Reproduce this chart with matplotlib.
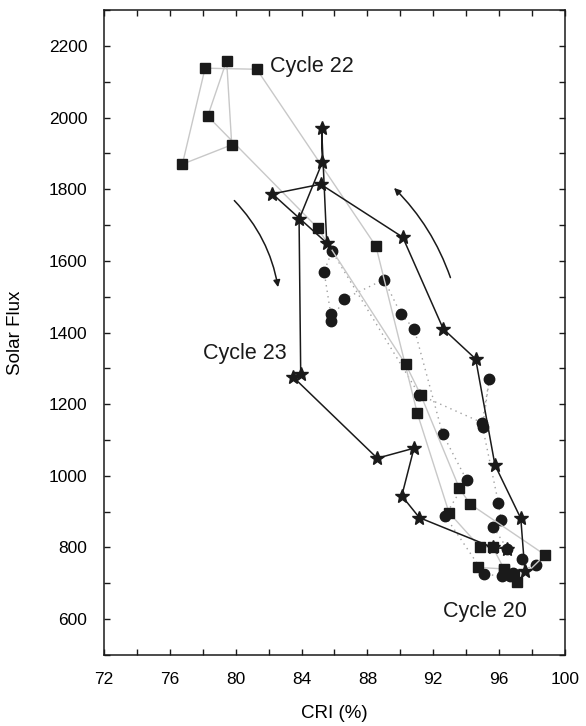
import matplotlib
matplotlib.use("Agg")
from matplotlib import pyplot as plt
from matplotlib.patches import FancyArrowPatch
from matplotlib.ticker import MultipleLocator

plt.rcParams["font.family"] = ["Liberation Sans", "DejaVu Sans"]

# Cycle 22 (squares, grey solid line)
cycle22Cri = [94.74, 96.3, 95.61, 94.84, 92.96, 91.03, 88.52, 81.28, 78.14, 76.76,
              79.76, 79.45, 78.3, 84.98, 90.33, 91.24, 93.59, 94.24, 98.8, 97.1,
              96.9, 96.3]
cycle22Flux = [744, 740, 801, 801, 897, 1175, 1641, 2135, 2138, 1870,
               1924, 2159, 2004, 1692, 1311, 1226, 965, 921, 779, 703,
               722, 738]

# Cycle 23 (stars, black solid line)
cycle23Cri = [97.57, 97.32, 95.75, 94.58, 92.61, 90.15, 85.16, 82.23, 85.53, 85.22,
              85.26, 83.85, 83.95, 83.46, 88.6, 90.83, 90.09, 91.16, 95.61, 96.5]
cycle23Flux = [733, 881, 1030, 1326, 1410, 1666, 1814, 1787, 1650, 1970,
               1875, 1716, 1283, 1277, 1049, 1077, 944, 883, 800, 796]

# Cycle 20 (circles, grey dotted line)
cycle20Cri = [97.38, 98.25, 96.87, 96.67, 96.16, 95.1, 92.72, 94.03, 92.57, 90.85,
              90.04, 89.01, 86.6, 85.79, 85.77, 85.37, 85.85, 91.16, 94.98, 95.41,
              95.0, 95.96, 96.12, 95.65, 96.5]
cycle20Flux = [767, 751, 728, 719, 719, 726, 888, 988, 1117, 1410,
               1451, 1548, 1494, 1433, 1453, 1570, 1627, 1226, 1148, 1270,
               1136, 924, 877, 857, 796]

# labels and arrows
cycleLabels = ["Cycle 22", "Cycle 23", "Cycle 20"]
labelPos = [(82.1, 2143), (78.0, 1340), (92.6, 620)]
arrowDown = [(79.8, 1774), (82.6, 1519)]
arrowUp = [(93.1, 1546), (89.5, 1809)]

fig = plt.figure(figsize=(5.86, 7.26), dpi=100)
ax = fig.add_axes([0.1775, 0.098, 0.7865, 0.888])

ax.plot(cycle20Cri, cycle20Flux, color="#a0a0a0", lw=1.0, ls=(0, (1, 3)),
        marker="o", ms=7.5, mfc="#1a1a1a", mec="#1a1a1a", zorder=2)
ax.plot(cycle22Cri, cycle22Flux, color="#c8c8c8", lw=1.0, ls="-",
        marker="s", ms=7, mfc="#1a1a1a", mec="#1a1a1a", zorder=3)
ax.plot(cycle23Cri, cycle23Flux, color="#1a1a1a", lw=1.1, ls="-",
        marker="*", ms=10, mfc="#1a1a1a", mec="#1a1a1a", zorder=4)

for text, pos in zip(cycleLabels, labelPos):
    ax.text(pos[0], pos[1], text, fontsize=15.5, color="#1a1a1a", va="center", ha="left")

ax.add_patch(FancyArrowPatch(arrowDown[0], arrowDown[1], arrowstyle="-|>",
                             connectionstyle="arc3,rad=-0.16", mutation_scale=10,
                             lw=1.1, color="#1a1a1a"))
ax.add_patch(FancyArrowPatch(arrowUp[0], arrowUp[1], arrowstyle="-|>",
                             connectionstyle="arc3,rad=0.12", mutation_scale=10,
                             lw=1.1, color="#1a1a1a"))

ax.set_xlim(72, 100)
ax.set_ylim(500, 2300)
ax.xaxis.set_major_locator(MultipleLocator(4))
ax.xaxis.set_minor_locator(MultipleLocator(2))
ax.yaxis.set_major_locator(MultipleLocator(200))
ax.yaxis.set_minor_locator(MultipleLocator(100))
ax.tick_params(which="both", direction="in", top=True, right=True,
               length=4.5, width=1.0, color="#1a1a1a", labelsize=12.5, pad=12)
for sp in ax.spines.values():
    sp.set_linewidth(1.1)
    sp.set_color("#1a1a1a")

ax.set_xlabel("CRI (%)", fontsize=13.5, labelpad=13)
ax.set_ylabel("Solar Flux", fontsize=13.5, labelpad=18)

fig.savefig("out.png", dpi=100)
